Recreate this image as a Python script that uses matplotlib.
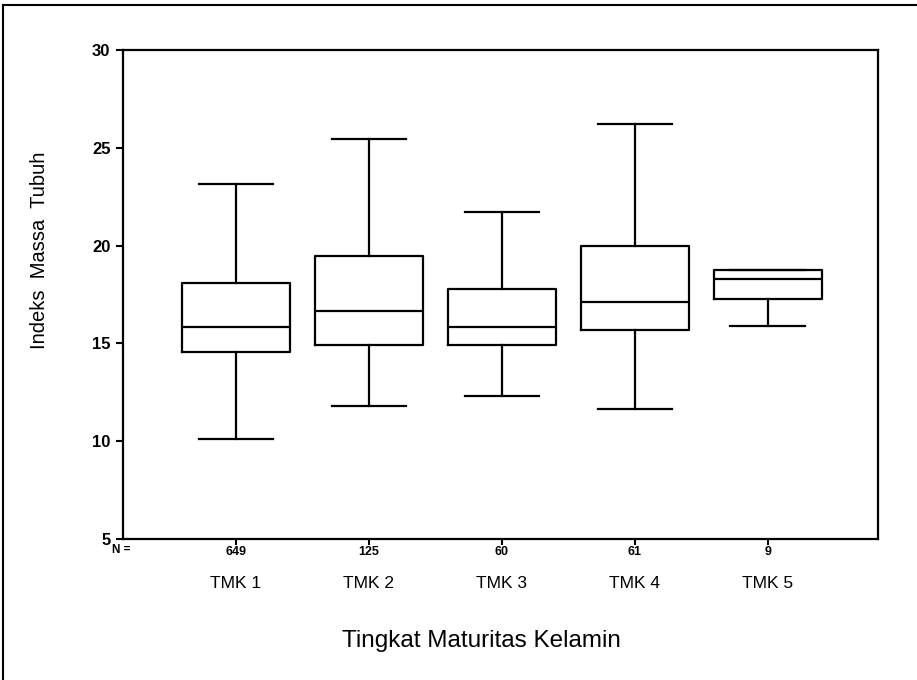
import matplotlib
matplotlib.use("Agg")
import matplotlib.pyplot as plt
from matplotlib.lines import Line2D

categories = ["TMK 1", "TMK 2", "TMK 3", "TMK 4", "TMK 5"]
n_counts = ["649", "125", "60", "61", "9"]
whisker_low = [10.1, 11.8, 12.3, 11.65, 15.9]
q1 = [14.55, 14.9, 14.9, 15.7, 17.25]
median = [15.85, 16.65, 15.85, 17.1, 18.3]
q3 = [18.1, 19.45, 17.8, 19.98, 18.75]
whisker_high = [23.15, 25.45, 21.72, 26.22, 18.75]

W, H = 917, 680
fig = plt.figure(figsize=(W / 100, H / 100), dpi=100)
ax = fig.add_axes([123 / W, 1 - 539 / H, (878 - 123) / W, (539 - 50) / H])

stats = []
for i in range(len(categories)):
    stats.append(dict(whislo=whisker_low[i], q1=q1[i], med=median[i],
                      q3=q3[i], whishi=whisker_high[i], fliers=[]))

positions = list(range(1, len(categories) + 1))
lw = 1.6
ax.bxp(stats, positions=positions, widths=0.81, capwidths=0.56,
       showfliers=False, patch_artist=False,
       boxprops=dict(color="black", linewidth=lw),
       medianprops=dict(color="black", linewidth=lw),
       whiskerprops=dict(color="black", linewidth=lw),
       capprops=dict(color="black", linewidth=lw))

ax.set_xlim(0.15, 5.83)
ax.set_ylim(5, 30)
ax.set_yticks([5, 10, 15, 20, 25, 30])
ax.set_yticklabels(["5", "10", "15", "20", "25", "30"],
                   fontfamily="Liberation Sans", fontweight="bold", fontsize=12)
ax.set_xticks(positions)
ax.set_xticklabels(n_counts, fontfamily="Liberation Sans", fontweight="bold", fontsize=9)
ax.tick_params(axis="y", direction="out", length=5, width=1.5, pad=4)
ax.tick_params(axis="x", direction="out", length=4, width=1.5, pad=1)
for s in ax.spines.values():
    s.set_linewidth(1.6)

# N = label
fig.text(121 / W, 1 - 550 / H, "N =", ha="center", va="center",
         fontfamily="Liberation Sans", fontweight="bold", fontsize=8.5)

# category labels
for p, c in zip(positions, categories):
    ax.text(p, -0.091, c, transform=ax.get_xaxis_transform(), ha="center", va="center",
            fontfamily="Liberation Sans", fontsize=12.5)

fig.text(481 / W, 1 - 641 / H, "Tingkat Maturitas Kelamin", ha="center", va="center",
         fontfamily="Liberation Sans", fontsize=17.5)
fig.text(40 / W, 1 - 250 / H, "Indeks  Massa  Tubuh", ha="center", va="center",
         rotation=90, fontfamily="Liberation Sans", fontsize=14.5)

# outer frame (top and left)
fig.add_artist(Line2D([3 / W, 1], [1 - 5 / H, 1 - 5 / H], color="black", linewidth=1.5,
                      transform=fig.transFigure))
fig.add_artist(Line2D([3 / W, 3 / W], [1 - 5 / H, 0], color="black", linewidth=1.5,
                      transform=fig.transFigure))

fig.savefig("out.png", dpi=100)
